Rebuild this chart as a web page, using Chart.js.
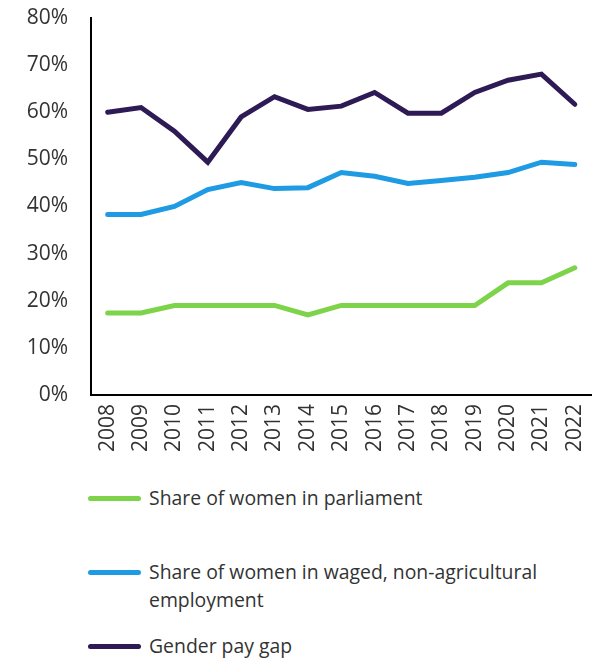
<!DOCTYPE html>
<html lang="en">
<head>
    <meta charset="UTF-8">
    <title>Women's Participation Indicators</title>
    <script src="https://cdn.jsdelivr.net/npm/chart.js"></script>
    <style>
        body {
            margin: 0;
            background: #ffffff;
            font-family: "Open Sans", Arial, sans-serif;
        }

        .wrap {
            position: relative;
            width: 609px;
            height: 660px;
            overflow: hidden;
        }

        #indicatorChart {
            position: absolute;
            left: 0;
            top: 0;
        }

        .legend {
            position: absolute;
            left: 88px;
            top: 484px;
            width: 521px;
            margin: 0;
            padding: 0;
            list-style: none;
        }

        .legend li {
            display: flex;
            align-items: flex-start;
            min-height: 74px;
            font-size: 19.4px;
            line-height: 28px;
            color: #333333;
        }

        .legend .swatch {
            flex: none;
            width: 53px;
            height: 5px;
            margin-top: 12px;
            margin-right: 8px;
            border-radius: 3px;
        }
    </style>
</head>
<body>
    <div class="wrap">
        <canvas id="indicatorChart" width="609" height="470"></canvas>
        <ul class="legend" id="legend"></ul>
    </div>

    <script>
        const years = ['2008', '2009', '2010', '2011', '2012', '2013', '2014', '2015',
                       '2016', '2017', '2018', '2019', '2020', '2021', '2022'];

        const parliament = [17.4, 17.4, 19, 19, 19, 19, 17, 19, 19, 19, 19, 19, 23.8, 23.8, 27];
        const employment = [38.3, 38.3, 40, 43.6, 45.1, 43.8, 44, 47.2, 46.4, 44.9, 45.5, 46.2, 47.2, 49.4, 48.9];
        const payGap = [60, 61, 56, 49.4, 59, 63.3, 60.6, 61.3, 64.2, 59.8, 59.8, 64.2, 66.8, 68.1, 61.7];

        const seriesNames = [
            'Share of women in parliament',
            'Share of women in waged, non-agricultural employment',
            'Gender pay gap'
        ];
        const seriesColors = ['#7dd34a', '#1e9be3', '#2e1a54'];

        const yTicks = [0, 10, 20, 30, 40, 50, 60, 70, 80];

        const tickFont = { family: '"Open Sans", Arial, sans-serif', size: 21 };

        function lineSet(label, data, color) {
            return {
                label: label,
                data: data,
                borderColor: color,
                backgroundColor: color,
                borderWidth: 5,
                borderCapStyle: 'round',
                pointRadius: 0,
                tension: 0,
                fill: false
            };
        }

        const ctx = document.getElementById('indicatorChart').getContext('2d');
        const chart = new Chart(ctx, {
            type: 'line',
            data: {
                labels: years,
                datasets: [
                    lineSet(seriesNames[0], parliament, seriesColors[0]),
                    lineSet(seriesNames[1], employment, seriesColors[1]),
                    lineSet(seriesNames[2], payGap, seriesColors[2])
                ]
            },
            options: {
                responsive: false,
                animation: false,
                layout: { padding: { top: 18, left: 0, right: 0, bottom: 0 } },
                plugins: {
                    legend: { display: false },
                    tooltip: { enabled: false }
                },
                scales: {
                    x: {
                        offset: true,
                        grid: { display: false, drawTicks: false },
                        border: { display: true, color: '#000000', width: 2 },
                        ticks: {
                            color: '#333333',
                            font: tickFont,
                            padding: 9,
                            minRotation: 90,
                            maxRotation: 90,
                            autoSkip: false
                        },
                        afterFit: function(scale) {
                            scale.height = 470 - 395;
                        }
                    },
                    y: {
                        min: yTicks[0],
                        max: yTicks[yTicks.length - 1],
                        grid: { display: false, drawTicks: false },
                        border: { display: true, color: '#000000', width: 2 },
                        afterBuildTicks: function(scale) {
                            scale.ticks = yTicks.map(v => ({ value: v }));
                        },
                        ticks: {
                            color: '#333333',
                            font: tickFont,
                            padding: 23,
                            callback: function(value) {
                                return value + '%';
                            }
                        },
                        afterFit: function(scale) {
                            // tick padding shouldn't push the plot area down
                            scale.width = 91;
                            scale.paddingTop = 0;
                            scale.paddingBottom = 0;
                        }
                    }
                }
            }
        });

        // legend built from the chart's own datasets
        const legendEl = document.getElementById('legend');
        chart.data.datasets.forEach(ds => {
            const li = document.createElement('li');
            const swatch = document.createElement('span');
            swatch.className = 'swatch';
            swatch.style.background = ds.borderColor;
            const text = document.createElement('span');
            text.textContent = ds.label;
            li.appendChild(swatch);
            li.appendChild(text);
            legendEl.appendChild(li);
        });
    </script>
</body>
</html>
